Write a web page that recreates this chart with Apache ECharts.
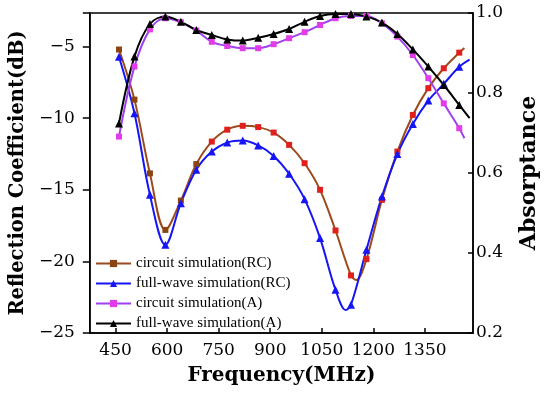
<!DOCTYPE html>
<html>
<head>
<meta charset="utf-8">
<script src="https://cdn.jsdelivr.net/npm/echarts@6/dist/echarts.min.js"></script>
<style>html,body{margin:0;padding:0;background:#fff}#c{width:550px;height:393px}</style>
</head>
<body>
<div id="c"></div>
<script>
// Frequencies (MHz) of the plotted markers
var freq = [460, 505, 550, 595, 640, 685, 730, 775, 820, 865, 910, 955, 1000, 1045, 1090, 1135, 1180, 1225, 1270, 1315, 1360, 1405, 1450];
// Reflection coefficient (dB)
var circuitRC = [-5.2, -8.7, -13.85, -17.8, -15.75, -13.2, -11.63, -10.8, -10.53, -10.62, -11.0, -11.86, -13.14, -15.0, -17.84, -20.98, -19.84, -15.7, -12.33, -9.77, -7.9, -6.51, -5.42];
var fullwaveRC = [-5.7, -9.65, -15.35, -18.84, -15.93, -13.6, -12.33, -11.7, -11.56, -11.9, -12.63, -13.88, -15.65, -18.37, -21.98, -23.03, -19.19, -15.47, -12.5, -10.4, -8.77, -7.6, -6.4];
// Absorptance
var circuitA = [0.691, 0.866, 0.959, 0.987, 0.977, 0.956, 0.928, 0.9175, 0.912, 0.912, 0.922, 0.937, 0.952, 0.97, 0.987, 0.9925, 0.9925, 0.974, 0.941, 0.895, 0.837, 0.774, 0.712];
var fullwaveA = [0.724, 0.891, 0.9725, 0.991, 0.978, 0.9575, 0.945, 0.934, 0.931, 0.938, 0.9475, 0.96, 0.978, 0.9925, 0.9975, 0.9975, 0.991, 0.976, 0.9475, 0.909, 0.866, 0.82, 0.77];
// Extra curve points between/after markers (no marker drawn): [freq, value]
var circuitRCExtra = [[1150, -21.3], [1465, -5.1]];
var fullwaveRCExtra = [[1120, -23.4], [1480, -5.9]];
var circuitAExtra = [[1465, 0.687]];
var fullwaveAExtra = [[1480, 0.737]];
// Axis tick labels
var xTicks = [450, 600, 750, 900, 1050, 1200, 1350];
var names = ['circuit simulation(RC)', 'full-wave simulation(RC)', 'circuit simulation(A)', 'full-wave simulation(A)'];

function build(vals, extra, colorFn) {
  var pts = freq.map(function (f, i) {
    var o = { value: [f, vals[i]] };
    if (colorFn) { o.itemStyle = { color: colorFn(f) }; }
    return o;
  });
  extra.forEach(function (e) { pts.push({ value: e, symbol: 'none' }); });
  pts.sort(function (a, b) { return a.value[0] - b.value[0]; });
  return pts;
}

var chart = echarts.init(document.getElementById('c'));
var serif = 'DejaVu Serif';
var lbl = { fontFamily: serif, fontSize: 17, color: '#000' };
chart.setOption({
  animation: false,
  backgroundColor: '#fff',
  grid: { left: 75, right: 77, top: 13, bottom: 60, show: true, borderColor: '#000', borderWidth: 1.5 },
  legend: {
    data: names,
    orient: 'vertical',
    left: 95, top: 256,
    itemWidth: 35, itemHeight: 9, itemGap: 5,
    textStyle: { fontFamily: 'Liberation Serif', fontSize: 15, color: '#000', lineHeight: 14 },
    padding: 0
  },
  xAxis: {
    type: 'value', min: 375, max: 1490,
    name: 'Frequency(MHz)', nameLocation: 'middle', nameGap: 33,
    nameTextStyle: { fontFamily: serif, fontWeight: 'bold', fontSize: 20, color: '#000' },
    axisLine: { lineStyle: { color: '#000', width: 1.5 } },
    axisTick: { inside: true, length: 5, customValues: xTicks, lineStyle: { color: '#000', width: 1.5 } },
    axisLabel: Object.assign({ margin: 9, customValues: xTicks, formatter: function (v) { return String(v); } }, lbl),
    splitLine: { show: false }
  },
  yAxis: [{
    type: 'value', min: -25, max: -2.65, interval: 5,
    name: 'Reflection Coefficient(dB)', nameLocation: 'middle', nameGap: 48, nameRotate: 90,
    nameTextStyle: { fontFamily: serif, fontWeight: 'bold', fontSize: 19.5, color: '#000' },
    axisLine: { show: true, lineStyle: { color: '#000', width: 1.5 } },
    axisTick: { show: true, inside: false, length: 7, lineStyle: { color: '#000', width: 1.5 } },
    axisLabel: Object.assign({ margin: 15, formatter: function (v) {
      if (Math.abs(v % 5) > 1e-6) return '';
      return v < 0 ? '\u2212' + Math.abs(v) : String(v);
    } }, lbl),
    splitLine: { show: false }
  }, {
    type: 'value', min: 0.2, max: 1.0, interval: 0.2, position: 'right',
    name: 'Absorptance', nameLocation: 'middle', nameGap: 45, nameRotate: 90,
    nameTextStyle: { fontFamily: serif, fontWeight: 'bold', fontSize: 22, color: '#000' },
    axisLine: { show: true, lineStyle: { color: '#000', width: 1.5 } },
    axisTick: { show: true, inside: true, length: 5, lineStyle: { color: '#000', width: 1.5 } },
    axisLabel: Object.assign({ margin: 3, formatter: function (v) { return v.toFixed(1); } }, lbl),
    splitLine: { show: false }
  }],
  series: [{
    name: names[0], type: 'line', yAxisIndex: 0, smooth: 0.35,
    symbol: 'rect', symbolSize: 6,
    lineStyle: { color: '#9b4a1e', width: 2 },
    itemStyle: { color: '#8b4513' },
    data: build(circuitRC, circuitRCExtra, function (f) { return f < 700 ? '#8b4513' : '#e0201c'; })
  }, {
    name: names[1], type: 'line', yAxisIndex: 0, smooth: 0.35,
    symbol: 'triangle', symbolSize: 8,
    lineStyle: { color: '#1515f5', width: 2 },
    itemStyle: { color: '#1515f5' },
    data: build(fullwaveRC, fullwaveRCExtra)
  }, {
    name: names[2], type: 'line', yAxisIndex: 1, smooth: 0.35,
    symbol: 'rect', symbolSize: 6,
    lineStyle: { color: '#a040f0', width: 2 },
    itemStyle: { color: '#e23ce8' },
    data: build(circuitA, circuitAExtra)
  }, {
    name: names[3], type: 'line', yAxisIndex: 1, smooth: 0.35,
    symbol: 'triangle', symbolSize: 8,
    lineStyle: { color: '#000', width: 2 },
    itemStyle: { color: '#000' },
    data: build(fullwaveA, fullwaveAExtra)
  }]
});
</script>
</body>
</html>
